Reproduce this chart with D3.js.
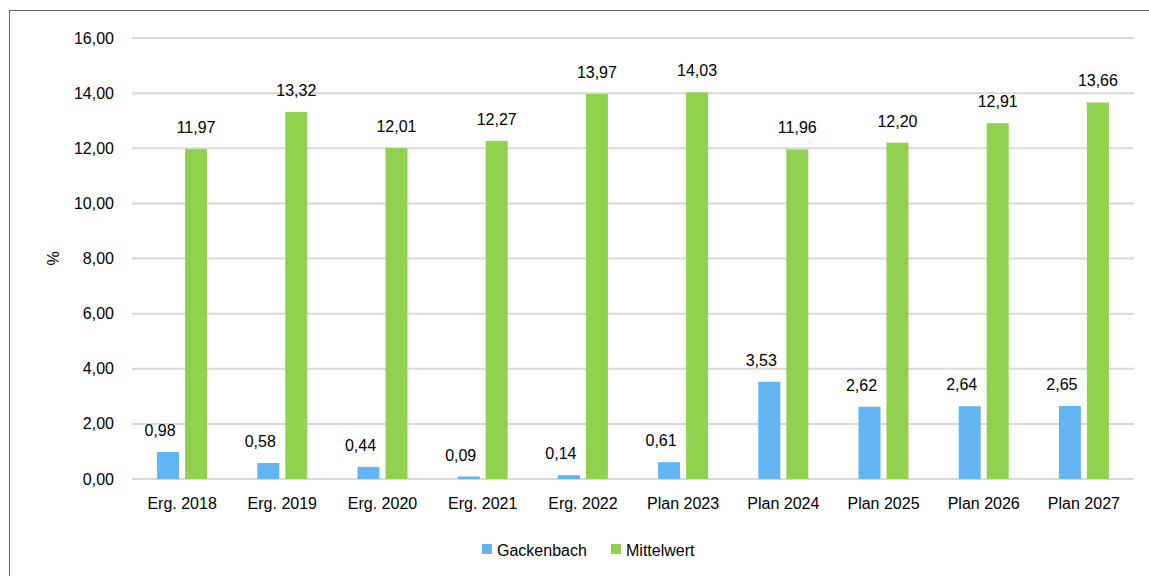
<!DOCTYPE html>
<html lang="de">
<head>
<meta charset="UTF-8">
<title>Gackenbach vs Mittelwert</title>
<script src="https://d3js.org/d3.v7.min.js"></script>
<style>
  body { margin: 0; background: #fff; }
  svg { display: block; font-family: "Liberation Sans", Arial, sans-serif; }
</style>
</head>
<body>
<svg id="chart" width="1149" height="576"></svg>
<script>
// data
const categories = ["Erg. 2018", "Erg. 2019", "Erg. 2020", "Erg. 2021", "Erg. 2022",
                    "Plan 2023", "Plan 2024", "Plan 2025", "Plan 2026", "Plan 2027"];
const gackenbach = [0.98, 0.58, 0.44, 0.09, 0.14, 0.61, 3.53, 2.62, 2.64, 2.65];
const mittelwert = [11.97, 13.32, 12.01, 12.27, 13.97, 14.03, 11.96, 12.20, 12.91, 13.66];
const yTicks = [0, 2, 4, 6, 8, 10, 12, 14, 16];
const seriesNames = ["Gackenbach", "Mittelwert"];
const colors = ["#63B4F3", "#92D050"];

const svg = d3.select("#chart");
const margin = {top: 38, left: 132, right: 15, bottom: 97};
const W = 1149, H = 576;
const fmt = v => d3.format(".2f")(v).replace(".", ",");

// outer frame
svg.append("rect").attr("x", 9.5).attr("y", 10.5).attr("width", 1160).attr("height", 600)
  .attr("fill", "none").attr("stroke", "#666").attr("stroke-width", 1);

const x = d3.scaleBand().domain(categories).range([margin.left, W - margin.right]).padding(0);
const y = d3.scaleLinear().domain([0, 16]).range([H - margin.bottom, margin.top]);

// gridlines
svg.append("g").selectAll("line").data(yTicks).join("line")
  .attr("x1", margin.left).attr("x2", W - margin.right)
  .attr("y1", d => y(d)).attr("y2", d => y(d))
  .attr("stroke", "#d9d9d9").attr("stroke-width", 2);

// y labels
svg.append("g").selectAll("text").data(yTicks).join("text")
  .attr("x", 114).attr("y", d => y(d)).attr("dy", "0.35em")
  .attr("text-anchor", "end").attr("font-size", 16).attr("fill", "#000")
  .text(fmt);

svg.append("text").attr("transform", `translate(59,${(y(0)+y(16))/2}) rotate(-90)`)
  .attr("text-anchor", "middle").attr("font-size", 16).text("%");

// bars
const barW = 22, gap = 6;
const series = [gackenbach, mittelwert];
series.forEach((vals, si) => {
  const off = si === 0 ? -gap / 2 - barW : gap / 2;
  const g = svg.append("g");
  g.selectAll("rect").data(vals).join("rect")
    .attr("x", (d, i) => x(categories[i]) + x.bandwidth() / 2 + off)
    .attr("y", d => y(d)).attr("width", barW).attr("height", d => y(0) - y(d))
    .attr("fill", colors[si]);
  g.selectAll("text").data(vals).join("text")
    .attr("x", (d, i) => x(categories[i]) + x.bandwidth() / 2 + off + barW / 2 + (si === 0 ? -8 : 0))
    .attr("y", d => y(d) - 16)
    .attr("text-anchor", "middle").attr("font-size", 16).attr("fill", "#000")
    .text(fmt);
});

// x labels
svg.append("g").selectAll("text").data(categories).join("text")
  .attr("x", d => x(d) + x.bandwidth() / 2).attr("y", y(0) + 30)
  .attr("text-anchor", "middle").attr("font-size", 16).text(d => d);

// legend
const legendX = [482, 611];
const lg = svg.append("g");
seriesNames.forEach((n, i) => {
  lg.append("rect").attr("x", legendX[i]).attr("y", 544).attr("width", 10).attr("height", 10).attr("fill", colors[i]);
  lg.append("text").attr("x", legendX[i] + 15).attr("y", 550).attr("dy", "0.35em")
    .attr("font-size", 16).text(n);
});
</script>
</body>
</html>
